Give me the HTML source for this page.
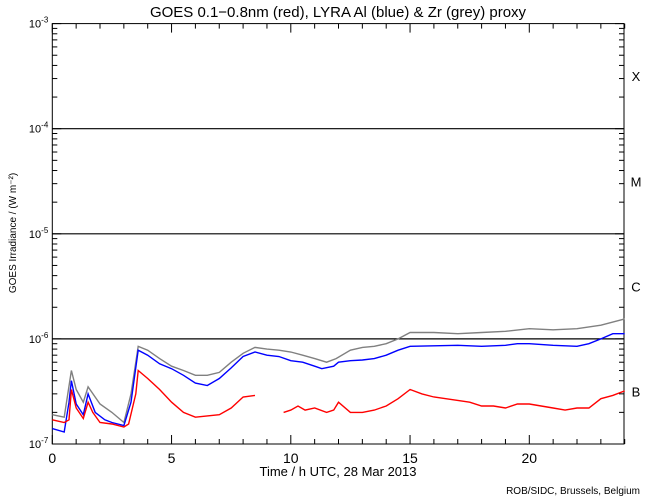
<!DOCTYPE html>
<html><head><meta charset="utf-8"><style>
body{margin:0;background:#fff}
svg{display:block;font-family:"Liberation Sans",sans-serif}
</style></head><body>
<svg id="chart" width="650" height="500" viewBox="0 0 650 500">
<rect x="0" y="0" width="650" height="500" fill="#fff"/>
<text x="338" y="17" font-size="15" text-anchor="middle">GOES 0.1−0.8nm (red), LYRA Al (blue) &amp; Zr (grey) proxy</text>
<text x="338" y="476" font-size="13" text-anchor="middle">Time / h UTC, 28 Mar 2013</text>
<text transform="translate(16,233) rotate(-90)" font-size="10" text-anchor="middle">GOES Irradiance / (W m⁻²)</text>
<text x="640" y="494" font-size="10" text-anchor="end">ROB/SIDC, Brussels, Belgium</text>
<g id="axes"></g>
<g id="series"></g>
</svg>
<script>
const xTicks=[0,5,10,15,20];
const yDecades=[-7,-6,-5,-4,-3];
const classes=["B","C","M","X"];
const redT=[0,0.5,0.7,0.8,1.0,1.3,1.5,1.7,2.0,2.5,3.0,3.2,3.5,3.6,4.0,4.5,5.0,5.5,6.0,6.5,7.0,7.5,8.0,8.5];
const redV=[1.7e-7,1.6e-7,1.7e-7,3.3e-7,2.2e-7,1.75e-7,2.5e-7,2.0e-7,1.6e-7,1.55e-7,1.45e-7,1.55e-7,3e-7,5e-7,4.2e-7,3.3e-7,2.5e-7,2.0e-7,1.8e-7,1.85e-7,1.9e-7,2.2e-7,2.8e-7,2.9e-7];
const red2T=[9.7,10,10.3,10.6,11,11.5,11.8,12,12.5,13,13.5,14,14.5,15,15.5,16,16.5,17,17.5,18,18.5,19,19.5,20,20.5,21,21.5,22,22.5,23,23.5,24];
const red2V=[2.0e-7,2.1e-7,2.3e-7,2.1e-7,2.2e-7,2.0e-7,2.1e-7,2.5e-7,2.0e-7,2.0e-7,2.1e-7,2.3e-7,2.7e-7,3.3e-7,3.0e-7,2.8e-7,2.7e-7,2.6e-7,2.5e-7,2.3e-7,2.3e-7,2.2e-7,2.4e-7,2.4e-7,2.3e-7,2.2e-7,2.1e-7,2.2e-7,2.2e-7,2.7e-7,2.9e-7,3.2e-7];
const blueT=[0,0.5,0.7,0.8,1.0,1.3,1.5,1.8,2.2,2.5,3.0,3.3,3.6,4.0,4.5,5.0,5.5,6.0,6.5,7.0,7.5,8,8.5,9,9.5,10,10.5,11,11.3,11.8,12,12.5,13,13.5,14,14.5,15,16,17,18,19,19.5,20,21,22,22.5,23,23.5,24];
const blueV=[1.4e-7,1.3e-7,2.5e-7,4e-7,2.4e-7,1.9e-7,3.0e-7,2.0e-7,1.7e-7,1.6e-7,1.5e-7,2.5e-7,7.8e-7,7.0e-7,5.8e-7,5.2e-7,4.5e-7,3.8e-7,3.6e-7,4.2e-7,5.3e-7,6.8e-7,7.5e-7,7.0e-7,6.8e-7,6.2e-7,6.0e-7,5.5e-7,5.2e-7,5.5e-7,6.0e-7,6.2e-7,6.3e-7,6.5e-7,7.0e-7,7.8e-7,8.5e-7,8.6e-7,8.7e-7,8.5e-7,8.7e-7,9.0e-7,9.0e-7,8.7e-7,8.5e-7,9.0e-7,1.0e-6,1.12e-6,1.12e-6];
const greyT=[0,0.5,0.8,1.0,1.3,1.5,2,2.5,3.0,3.3,3.6,4,4.5,5,5.5,6,6.5,7,7.5,8,8.5,9,9.5,10,10.5,11,11.5,11.9,12.5,13,13.5,14,14.5,15,16,17,18,19,20,21,22,23,24];
const greyV=[1.9e-7,1.8e-7,5e-7,3.3e-7,2.5e-7,3.5e-7,2.4e-7,2.0e-7,1.6e-7,3e-7,8.5e-7,7.8e-7,6.5e-7,5.5e-7,5e-7,4.5e-7,4.5e-7,4.8e-7,6e-7,7.3e-7,8.3e-7,8e-7,7.8e-7,7.5e-7,7e-7,6.5e-7,6e-7,6.5e-7,7.8e-7,8.3e-7,8.5e-7,9e-7,1.0e-6,1.15e-6,1.15e-6,1.12e-6,1.15e-6,1.18e-6,1.25e-6,1.22e-6,1.25e-6,1.35e-6,1.55e-6];

const X0=52.3,XR=624,PXH=23.85,YB=444,DEC=105.1;
const xs=t=>X0+t*PXH;
const ys=v=>YB-(Math.log10(v)+7)*DEC;
const NS="http://www.w3.org/2000/svg";
function mk(tag,attrs,parent){const e=document.createElementNS(NS,tag);for(const k in attrs)e.setAttribute(k,attrs[k]);parent.appendChild(e);return e;}
const axes=document.getElementById('axes');
const ser=document.getElementById('series');
const YT=ys(1e-3);
const frame=mk('rect',{x:X0,y:YT,width:XR-X0,height:YB-YT,fill:'none',stroke:'#000','stroke-width':1},axes);


// class boundary lines
[-6,-5,-4].forEach(d=>{
 const l=mk('line',{x1:X0,x2:XR,y1:ys(Math.pow(10,d)),y2:ys(Math.pow(10,d)),stroke:'#000','stroke-width':1.2},axes);
 
 
});
// x ticks
for(let h=0;h<=24;h++){
 const major=h%5===0,len=major?9:5,x=xs(h);
 mk('line',{x1:x,x2:x,y1:YB,y2:YB-len,stroke:'#000'},axes);
 mk('line',{x1:x,x2:x,y1:YT,y2:YT+len,stroke:'#000'},axes);
}
xTicks.forEach(h=>{
 const t=mk('text',{x:xs(h),y:YB+19,'font-size':14,'text-anchor':'middle'},axes);
 t.textContent=h;
 
 
});
// y ticks
yDecades.forEach(d=>{
 const y=ys(Math.pow(10,d));
 mk('line',{x1:X0,x2:X0+9,y1:y,y2:y,stroke:'#000'},axes);
 mk('line',{x1:XR,x2:XR-9,y1:y,y2:y,stroke:'#000'},axes);
 if(d<-3)for(let m=2;m<10;m++){const yy=ys(m*Math.pow(10,d));
  mk('line',{x1:X0,x2:X0+5,y1:yy,y2:yy,stroke:'#000'},axes);
  mk('line',{x1:XR,x2:XR-5,y1:yy,y2:yy,stroke:'#000'},axes);}
 const t=mk('text',{x:X0-4,y:y+4,'font-size':11,'text-anchor':'end'},axes);
 t.innerHTML='10<tspan dy="-5" font-size="8">'+d+'</tspan>';
 
 
});
classes.forEach((c,i)=>{
 const t=mk('text',{x:636,y:ys(Math.pow(10,-6.5+i))+5,'font-size':13,'text-anchor':'middle'},axes);
 t.textContent=c;
 
 
});
function line(T,V,color,name){
 const p=mk('polyline',{points:T.map((t,i)=>xs(t).toFixed(1)+','+ys(V[i]).toFixed(1)).join(' '),fill:'none',stroke:color,'stroke-width':1.4},ser);
 
 
}
line(greyT,greyV,'#808080','zr-proxy-series');
line(blueT,blueV,'#0000ff','al-proxy-series');
line(redT,redV,'#ff0000','goes-series-part1');
line(red2T,red2V,'#ff0000','goes-series-part2');
</script>
</body></html>
